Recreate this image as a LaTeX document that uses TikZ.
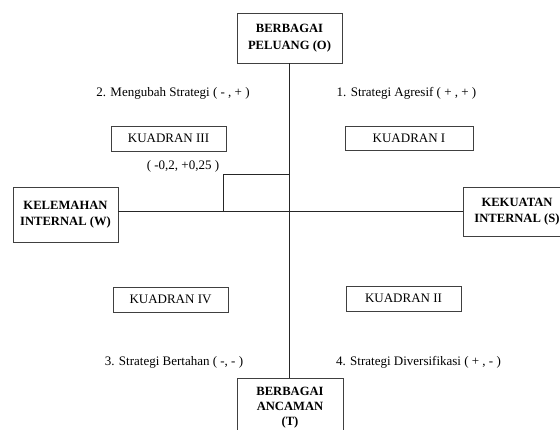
\documentclass[tikz,border=0pt]{standalone}
\usepackage{fontspec}
\setmainfont{Liberation Serif}
\usetikzlibrary{shapes}
\tikzstyle{kotak}=[rectangle,draw=black!75,line width=.8pt,align=center,inner sep=1pt,font=\fontsize{12.6}{16.5}\selectfont\bfseries]
\tikzstyle{kuadran}=[rectangle,draw=black!75,line width=.8pt,minimum width=115pt,minimum height=25pt,inner sep=1pt,font=\fontsize{13}{15}\selectfont]
\tikzstyle{teks}=[inner sep=0pt,font=\fontsize{13}{15}\selectfont]
\tikzstyle{garis}=[line width=.8pt,black!85]

\begin{document}
\begin{tikzpicture}[x=1pt,y=-1pt]
\useasboundingbox (0,0) rectangle (560,430);
% kotak pada ujung sumbu
\node[kotak,minimum width=105pt,minimum height=50pt] (peluang) at (289.5,38) {BERBAGAI\\PELUANG (O)};
\node[kotak,minimum width=105pt,minimum height=55pt] (kelemahan) at (65.5,214.5) {KELEMAHAN\\INTERNAL (W)};
\node[kotak,minimum width=108pt,minimum height=49pt] (kekuatan) at (517,211.5) {KEKUATAN\\INTERNAL (S)};
\node[kotak,minimum width=106pt,minimum height=60pt,font=\fontsize{12.6}{15}\selectfont\bfseries] (ancaman) at (290,408) {BERBAGAI\\ANCAMAN\\(T)};
% sumbu
\coordinate (pusat) at (289.5,211);
\draw[garis] (peluang.south) -- (peluang.south |- ancaman.north);
\draw[garis] (kelemahan.east |- pusat) -- (kekuatan.west |- pusat);
% kuadran
\node[kuadran] (k3) at (168.5,138.5) {KUADRAN III};
\node[kuadran,minimum width=128pt,minimum height=24pt] (k1) at (409,138) {KUADRAN I};
\node[kuadran] (k4) at (170.5,299.5) {KUADRAN IV};
\node[kuadran] (k2) at (403.5,298.5) {KUADRAN II};
% strategi
\node[teks] (s2) at (173,93) {2. Mengubah Strategi ( - , + )};
\node[teks] (s1) at (406.5,93) {1. Strategi Agresif ( + , + )};
\node[teks] (s3) at (174,362) {3. Strategi Bertahan ( -, - )};
\node[teks] (s4) at (418.5,362) {4. Strategi Diversifikasi ( + , - )};
% posisi
\node[teks] (posisi) at (183,166) {( -0,2, +0,25 )};
\coordinate (titik) at (223,174);
\draw[garis] (titik |- pusat) -- (titik) -- (titik -| pusat);
\end{tikzpicture}
\end{document}
